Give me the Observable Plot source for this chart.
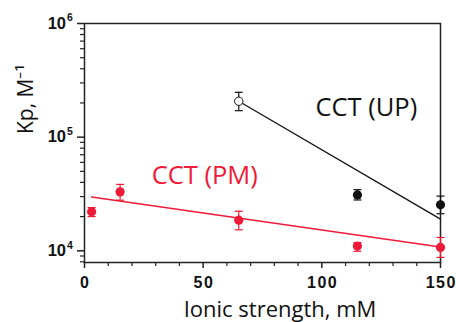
<!DOCTYPE html>
<html><head><meta charset="utf-8">
<script src="https://cdn.jsdelivr.net/npm/d3@7"></script>
<script src="https://cdn.jsdelivr.net/npm/@observablehq/plot@0.6"></script>
<style>body{margin:0;background:#fff}</style>
</head><body><div id="chart"></div>
<script>
const RED = "#ef1a37";
// CCT (PM) series
const pmIonic = [3, 15, 65, 115, 150];
const pmKp = [22100, 33000, 18600, 11000, 10700];
const pmLow = [20000, 27900, 15300, 9900, 8750];
const pmHigh = [24000, 38400, 22300, 11800, 13100];
// CCT (UP) series
const upIonic = [65, 115, 150];
const upKp = [207000, 31000, 25400];
const upLow = [171000, 28000, 21200];
const upHigh = [248000, 34500, 30300];
const upOpen = [true, false, false];
// fitted lines
const pmFitIonic = [3, 150];
const pmFitKp = [29800, 10800];
const upFitIonic = [65, 150];
const upFitKp = [207000, 19000];
// ticks
const xTicks = [0, 50, 100, 150];
const xMinorTicks = [10, 20, 30, 40, 60, 70, 80, 90, 110, 120, 130, 140];
const yTicks = [1e4, 1e5, 1e6];
const yExponents = ["4", "5", "6"];
const yMinorTicks = [8000, 9000, 20000, 30000, 40000, 50000, 60000, 70000, 80000, 90000,
  200000, 300000, 400000, 500000, 600000, 700000, 800000, 900000];
// series labels
const labelTexts = ["CCT (UP)", "CCT (PM)"];
const labelIonic = [97.3, 28.3];
const labelKp = [180000, 45500];
const labelColors = ["#111", RED];

const pm = pmIonic.map((x, i) => ({x, y: pmKp[i], lo: pmLow[i], hi: pmHigh[i]}));
const up = upIonic.map((x, i) => ({x, y: upKp[i], lo: upLow[i], hi: upHigh[i], open: upOpen[i]}));
const upFilled = up.filter(d => !d.open);
const upHollow = up.filter(d => d.open);
const pmFit = pmFitIonic.map((x, i) => ({x, y: pmFitKp[i]}));
const upFit = upFitIonic.map((x, i) => ({x, y: upFitKp[i]}));
const labels = labelTexts.map((t, i) => ({t, x: labelIonic[i], y: labelKp[i], c: labelColors[i]}));

const cap = {draw(ctx) { ctx.moveTo(-4, 0); ctx.lineTo(4, 0); }};
const AX = "#222";
const SANS = "Open Sans";
const BOLD = {fontFamily: "Liberation Sans", fontWeight: "bold", fontSize: 16};

const chart = Plot.plot({
  width: 456, height: 322,
  marginLeft: 84, marginRight: 16, marginTop: 23, marginBottom: 60,
  style: {fontFamily: "Liberation Sans", fontSize: "15px", fontWeight: "bold", background: "#fff", color: "#111"},
  x: {domain: [0, 150]},
  y: {type: "log", domain: [7890, 1e6]},
  marks: [
    Plot.frame({stroke: AX, strokeWidth: 1.5}),
    Plot.axisX({ticks: xTicks, tickSize: 6, tickPadding: 8, tickFormat: d3.format("d"), label: null, stroke: AX, strokeWidth: 1.5, fill: "#111", ...BOLD}),
    Plot.axisX({ticks: xMinorTicks, tickSize: 4, tickFormat: () => "", label: null, stroke: AX, strokeWidth: 1.2}),
    Plot.axisY({ticks: yTicks, tickSize: 7, tickFormat: () => "", label: null, stroke: AX, strokeWidth: 1.5}),
    Plot.axisY({ticks: yMinorTicks, tickSize: 4, tickFormat: () => "", label: null, stroke: AX, strokeWidth: 1.2}),
    Plot.text(yTicks, {y: d => d, text: () => "10", frameAnchor: "left", dx: -18.5, textAnchor: "end", lineAnchor: "middle", fill: "#111", ...BOLD, fontSize: 16.5}),
    Plot.text(yTicks, {y: d => d, text: (d, i) => yExponents[i], frameAnchor: "left", dx: -17.5, dy: -5.5, textAnchor: "start", lineAnchor: "middle", fill: "#111", ...BOLD, fontSize: 10.5}),
    // fit lines
    Plot.line(pmFit, {x: "x", y: "y", stroke: RED, strokeWidth: 1.5}),
    Plot.line(upFit, {x: "x", y: "y", stroke: "#111", strokeWidth: 1.3}),
    // error bars
    Plot.ruleX(pm, {x: "x", y1: "lo", y2: "hi", stroke: RED, strokeWidth: 1.2}),
    Plot.dot(pm, {x: "x", y: "lo", symbol: cap, stroke: RED, strokeWidth: 1.2}),
    Plot.dot(pm, {x: "x", y: "hi", symbol: cap, stroke: RED, strokeWidth: 1.2}),
    Plot.ruleX(up, {x: "x", y1: "lo", y2: "hi", stroke: "#111", strokeWidth: 1.2}),
    Plot.dot(up, {x: "x", y: "lo", symbol: cap, stroke: "#111", strokeWidth: 1.2}),
    Plot.dot(up, {x: "x", y: "hi", symbol: cap, stroke: "#111", strokeWidth: 1.2}),
    // points
    Plot.dot(pm, {x: "x", y: "y", r: 4.6, fill: RED, stroke: "none"}),
    Plot.dot(upFilled, {x: "x", y: "y", r: 4.6, fill: "#111", stroke: "none"}),
    Plot.dot(upHollow, {x: "x", y: "y", r: 4.2, fill: "#fff", stroke: "#111", strokeWidth: 1}),
    // series labels
    Plot.text(labels, {x: "x", y: "y", text: "t", fill: "c", textAnchor: "start", lineAnchor: "middle", fontFamily: SANS, fontWeight: "normal", fontSize: 25.5}),
    // axis titles
    Plot.text(["Ionic strength, mM"], {frameAnchor: "bottom", dx: 17.5, dy: 47.7, lineAnchor: "middle", fontFamily: SANS, fontWeight: "normal", fontSize: 22, fill: "#111"}),
    Plot.text(["Kp, M\u207B\u00B9"], {frameAnchor: "left", rotate: -90, dx: -58.5, dy: -9, lineAnchor: "middle", fontFamily: SANS, fontWeight: "normal", fontSize: 21, fill: "#111"})
  ]
});
d3.select(chart).selectAll('g[aria-label="x-axis tick label"] text').attr("letter-spacing", "1.5px").attr("dx", "0.75px");
document.getElementById("chart").append(chart);
</script>
</body></html>
